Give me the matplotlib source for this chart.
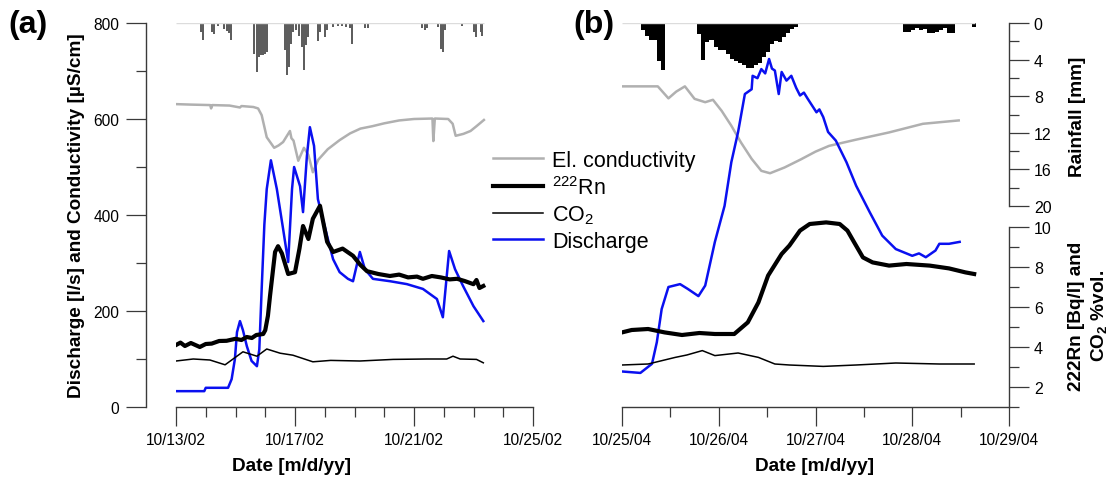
import numpy as np
import pandas as pd
import matplotlib
matplotlib.use('Agg')
import matplotlib.pyplot as plt
import matplotlib.dates as mdates
from matplotlib.ticker import FixedLocator, NullLocator

plt.rcParams['font.family'] = ['Liberation Sans', 'DejaVu Sans']
plt.rcParams['mathtext.fontset'] = 'custom'
plt.rcParams['mathtext.rm'] = 'Liberation Sans'
plt.rcParams['mathtext.bf'] = 'Liberation Sans:bold'

# ---------------- data: panel (a), Oct 2002 (x = days after 10/13/02) ----------------
start_a = '2002-10-13'
cond_a_d = [0, 0.5, 1.15, 1.18, 1.22, 1.8, 2.15, 2.2, 2.6, 2.76, 2.88, 3.05, 3.3, 3.45, 3.6,
            3.83, 3.88, 3.95, 4.11, 4.3, 4.45, 4.6, 4.78, 5.1, 5.5, 5.85, 6.2, 6.6, 7.0, 7.5,
            8.0, 8.62, 8.65, 8.7, 9.15, 9.3, 9.4, 9.66, 9.9, 10.1, 10.35]
cond_a = [631, 630, 629, 622, 629, 628, 624, 627, 625, 622, 608, 562, 540, 545, 552,
          575, 560, 555, 513, 540, 525, 489, 515, 537, 556, 570, 580, 585, 591, 597,
          600, 601, 554, 601, 600, 590, 565, 569, 575, 585, 598]

q_a_d = [0, 0.95, 1.0, 1.75, 1.87, 1.98, 2.05, 2.15, 2.25, 2.38, 2.54, 2.72, 2.8, 2.88, 2.97,
         3.05, 3.19, 3.39, 3.6, 3.77, 3.9, 3.97, 4.17, 4.27, 4.4, 4.5, 4.64, 4.77, 5.08, 5.28,
         5.5, 5.78, 5.95, 6.18, 6.35, 6.62, 7.2, 7.76, 8.3, 8.77, 8.97, 9.18, 9.38, 9.65, 10.0, 10.33]
q_a = [33, 33, 40, 40, 58, 100, 156, 179, 160, 127, 96, 85, 120, 246, 380,
       454, 514, 454, 371, 302, 454, 500, 460, 406, 523, 583, 544, 433, 356, 308,
       281, 267, 262, 323, 287, 267, 262, 256, 246, 225, 187, 325, 287, 252, 210, 179]

rn_a_d = [0, 0.15, 0.3, 0.5, 0.8, 1.0, 1.2, 1.45, 1.7, 2.0, 2.2, 2.38, 2.55, 2.7, 2.93, 3.0,
          3.09, 3.16, 3.33, 3.43, 3.56, 3.77, 4.0, 4.15, 4.27, 4.45, 4.6, 4.84, 5.08, 5.28,
          5.6, 5.95, 6.2, 6.42, 6.8, 7.19, 7.5, 7.8, 8.1, 8.3, 8.6, 8.9, 9.2, 9.45, 9.7, 10.0,
          10.1, 10.2, 10.33]
rn_a = [4.10, 4.22, 4.05, 4.20, 4.00, 4.15, 4.17, 4.30, 4.31, 4.41, 4.35, 4.50, 4.45, 4.60, 4.65, 4.84,
        5.56, 6.55, 8.75, 9.04, 8.68, 7.65, 7.74, 8.92, 10.05, 9.40, 10.41, 11.06, 9.26, 8.75,
        8.92, 8.56, 8.10, 7.79, 7.65, 7.55, 7.62, 7.48, 7.52, 7.41, 7.55, 7.48, 7.38, 7.41, 7.30, 7.14,
        7.35, 6.95, 7.05]

co2_a_d = [0, 0.58, 1.14, 1.65, 2.25, 2.72, 3.05, 3.5, 3.93, 4.6, 5.2, 6.18, 7.3, 8.43, 9.1,
           9.31, 9.55, 10.1, 10.33]
co2_a = [3.30, 3.40, 3.35, 3.11, 3.76, 3.54, 3.90, 3.69, 3.59, 3.26, 3.33, 3.30, 3.38, 3.40, 3.40,
         3.54, 3.40, 3.38, 3.21]

rain_a_d = [0.83, 0.92, 1.2, 1.28, 1.42, 1.61, 1.70, 1.79, 1.86, 2.10, 2.21, 2.62, 2.71, 2.78,
            2.85, 2.91, 2.99, 3.07, 3.66, 3.72, 3.80, 3.87, 3.94, 4.03, 4.14, 4.22, 4.29, 4.37,
            4.45, 4.78, 4.84, 5.01, 5.07, 5.29, 5.46, 5.57, 5.71, 5.85, 5.92, 6.35, 6.44, 8.28,
            8.37, 8.45, 8.82, 8.90, 8.99, 9.04, 9.62, 10.02, 10.07, 10.24, 10.30]
rain_a = [1.0, 1.9, 1.0, 1.2, 0.3, 0.7, 0.9, 1.1, 1.9, 0.15, 0.15, 3.4, 5.4, 3.7,
          3.5, 3.5, 3.4, 3.2, 3.0, 5.7, 4.8, 2.3, 1.0, 0.8, 1.4, 2.6, 5.1, 2.4,
          1.5, 2.0, 1.0, 1.5, 0.8, 0.4, 0.3, 0.3, 0.4, 0.6, 2.3, 0.6, 0.6, 0.6,
          0.8, 0.6, 0.4, 2.8, 3.2, 0.8, 0.3, 1.0, 1.5, 1.0, 1.4]

# ---------------- data: panel (b), Oct 2004 (x = days after 10/25/04) ----------------
start_b = '2004-10-25'
cond_b_d = [0, 0.37, 0.48, 0.56, 0.65, 0.75, 0.86, 0.94, 1.03, 1.13, 1.23, 1.34, 1.44, 1.53,
            1.68, 1.85, 2.0, 2.14, 2.42, 2.76, 3.11, 3.48]
cond_b = [668, 668, 643, 657, 668, 642, 635, 640, 617, 586, 551, 517, 492, 487,
          499, 516, 532, 544, 557, 572, 590, 597]

q_b_d = [0, 0.19, 0.31, 0.36, 0.41, 0.48, 0.60, 0.68, 0.79, 0.86, 0.96, 1.06, 1.13, 1.20, 1.27,
         1.34, 1.35, 1.40, 1.44, 1.48, 1.52, 1.55, 1.58, 1.62, 1.65, 1.70, 1.75, 1.80, 1.84, 1.88,
         1.92, 2.01, 2.04, 2.08, 2.13, 2.21, 2.32, 2.42, 2.56, 2.69, 2.83, 3.00, 3.07, 3.14,
         3.24, 3.28, 3.38, 3.49]
q_b = [74, 71, 90, 135, 204, 250, 256, 246, 231, 253, 344, 419, 510, 573, 652,
       662, 690, 685, 704, 695, 725, 705, 701, 652, 698, 680, 690, 665, 649, 655,
       642, 614, 620, 604, 573, 555, 510, 461, 406, 357, 329, 315, 320, 312,
       326, 340, 340, 344]

rn_b_d = [0, 0.1, 0.27, 0.44, 0.62, 0.8, 0.96, 1.16, 1.30, 1.41, 1.51, 1.65, 1.73, 1.84, 1.94,
          2.11, 2.25, 2.33, 2.40, 2.49, 2.59, 2.76, 2.94, 3.18, 3.38, 3.55, 3.64]
rn_b = [4.73, 4.85, 4.90, 4.73, 4.60, 4.70, 4.65, 4.65, 5.23, 6.23, 7.57, 8.65, 9.07, 9.82, 10.15,
        10.23, 10.15, 9.82, 9.23, 8.48, 8.23, 8.07, 8.15, 8.07, 7.93, 7.73, 7.65]

co2_b_d = [0, 0.27, 0.55, 0.67, 0.83, 0.96, 1.20, 1.41, 1.58, 1.73, 2.08, 2.42, 2.83, 3.28, 3.64]
co2_b = [3.10, 3.15, 3.48, 3.60, 3.82, 3.57, 3.70, 3.48, 3.15, 3.10, 3.03, 3.10, 3.20, 3.15, 3.15]

# hourly rainfall [mm], first hour begins 4.7 h after 10/25/04 00:00
rain_b_h0 = 4.7
rain_b = [0.8, 1.4, 1.9, 1.9, 4.1, 5.1, 0, 0.15, 0, 0, 0, 0, 0, 0.1, 1.2, 4.0, 2.1, 1.9,
          2.6, 2.9, 3.0, 3.4, 3.9, 4.1, 4.4, 4.6, 4.9, 4.9, 4.6, 4.4, 3.7, 3.2, 2.3, 2.0,
          2.1, 1.5, 1.1, 0.7, 0.4, 0, 0, 0, 0, 0.1, 0, 0, 0, 0, 0, 0, 0, 0, 0, 0, 0, 0,
          0, 0, 0, 0, 0, 0, 0, 0, 0, 1.0, 1.0, 0.8, 0.6, 0.8, 0.7, 1.1, 1.1, 1.0, 0.8,
          0.6, 1.1, 1.1, 0, 0, 0, 0, 0.4]


def to_time(start, days):
    return pd.Timestamp(start) + pd.to_timedelta(np.asarray(days, dtype=float), unit='D')


W, H = 1114, 481
fig = plt.figure(figsize=(W / 100, H / 100), dpi=100)

def rect(x0, y0, x1, y1):
    return [x0 / W, 1 - y1 / H, (x1 - x0) / W, (y1 - y0) / H]

AXC = '#3a3a3a'
BLUE = '#0a10f0'
GREY = '#b0b0b0'


def make_panel(r, t0, t1):
    ax = fig.add_axes(r)
    ax.set_xlim(pd.Timestamp(t0), pd.Timestamp(t1))
    ax.set_ylim(0, 800)
    ax_rn = ax.twinx()
    ax_rn.set_ylim(1, 1 + 384 / 20.0)
    ax_rain = ax.twinx()
    ax_rain.set_ylim(384 / 9.15, 0)
    for a in (ax, ax_rn, ax_rain):
        for s in a.spines.values():
            s.set_visible(False)
            s.set_color(AXC)
            s.set_linewidth(1.0)
        a.patch.set_visible(False)
    for a in (ax_rn, ax_rain):
        a.yaxis.set_major_locator(NullLocator())
        a.yaxis.set_minor_locator(NullLocator())
    ax.spines['bottom'].set_visible(True)
    ax.xaxis.set_major_formatter(mdates.DateFormatter('%m/%d/%y'))
    ax.tick_params(axis='x', which='major', direction='out', length=13.7, width=0.9,
                   color=AXC, pad=4.5, labelsize=11.2)
    ax.tick_params(axis='x', which='minor', direction='out', length=7.2, width=0.9, color=AXC)
    return ax, ax_rn, ax_rain


# ---------------- panel (a) ----------------
ax_a, rn_ax_a, rain_ax_a = make_panel(rect(176, 24, 533, 408), '2002-10-13', '2002-10-25')
ax_a.spines['left'].set_visible(True)
ax_a.spines['left'].set_position(('outward', 21.6))
ax_a.yaxis.set_major_locator(FixedLocator([0, 200, 400, 600, 800]))
ax_a.yaxis.set_minor_locator(FixedLocator([100, 300, 500, 700]))
ax_a.tick_params(axis='y', which='major', direction='out', length=14.4, width=0.9,
                 color=AXC, pad=5, labelsize=11.2)
ax_a.tick_params(axis='y', which='minor', direction='out', length=7.2, width=0.9, color=AXC)
ax_a.xaxis.set_major_locator(mdates.DayLocator(bymonthday=[13, 17, 21, 25]))
ax_a.xaxis.set_minor_locator(mdates.DayLocator())

t_cond_a = to_time(start_a, cond_a_d)
rain_ax_a.hlines(0, t_cond_a[0], t_cond_a[-1], color='#dcdcdc', lw=1)
rain_ax_a.bar(to_time(start_a, rain_a_d), rain_a, width=0.065, color='#5e5e5e')
l_cond, = ax_a.plot(t_cond_a, cond_a, color=GREY, lw=1.8)
l_q, = ax_a.plot(to_time(start_a, q_a_d), q_a, color=BLUE, lw=1.8)
l_rn, = rn_ax_a.plot(to_time(start_a, rn_a_d), rn_a, color='black', lw=3.0)
l_co2, = rn_ax_a.plot(to_time(start_a, co2_a_d), co2_a, color='black', lw=1.1)

ax_a.set_ylabel('Discharge [l/s] and Conductivity [\u00b5S/cm]', fontsize=13.7, fontweight='bold')
ax_a.yaxis.set_label_coords((85 - 176) / 357, 0.5)
fig.text(292 / W, 1 - 467 / H, 'Date [m/d/yy]', fontsize=13.7, fontweight='bold',
         ha='center', va='center')
fig.text(28 / W, 1 - 25 / H, '(a)', fontsize=23, fontweight='bold', ha='center', va='center')

# ---------------- panel (b) ----------------
ax_b, rn_ax_b, rain_ax_b = make_panel(rect(622, 24, 1009, 408), '2004-10-25', '2004-10-29')
ax_b.yaxis.set_major_locator(NullLocator())
ax_b.xaxis.set_major_locator(mdates.DayLocator())
ax_b.xaxis.set_minor_locator(mdates.HourLocator(byhour=[12]))

for a, lo, hi, major, minor in ((rn_ax_b, 1, 10, [2, 4, 6, 8, 10], [1, 3, 5, 7, 9]),
                                (rain_ax_b, 0, 20, [0, 4, 8, 12, 16, 20], [2, 6, 10, 14, 18])):
    a.spines['right'].set_visible(True)
    a.spines['right'].set_bounds(lo, hi)
    a.yaxis.set_major_locator(FixedLocator(major))
    a.yaxis.set_minor_locator(FixedLocator(minor))
    a.tick_params(axis='y', which='major', direction='out', length=14.4, width=0.9,
                  color=AXC, pad=3.5, labelsize=11.5, right=True, labelright=True)
    a.tick_params(axis='y', which='minor', direction='out', length=7.2, width=0.9,
                  color=AXC, right=True)

t_cond_b = to_time(start_b, cond_b_d)
rain_ax_b.hlines(0, t_cond_b[0], to_time(start_b, [3.65])[0], color='#dcdcdc', lw=1)
rain_t_b = to_time(start_b, (rain_b_h0 + np.arange(len(rain_b))) / 24.0)
rain_ax_b.bar(rain_t_b, rain_b, width=1 / 24.0, align='edge', color='black')
ax_b.plot(t_cond_b, cond_b, color=GREY, lw=1.8)
ax_b.plot(to_time(start_b, q_b_d), q_b, color=BLUE, lw=1.8)
rn_ax_b.plot(to_time(start_b, rn_b_d), rn_b, color='black', lw=3.0)
rn_ax_b.plot(to_time(start_b, co2_b_d), co2_b, color='black', lw=1.1)

fig.text(815 / W, 1 - 467 / H, 'Date [m/d/yy]', fontsize=13.7, fontweight='bold',
         ha='center', va='center')
fig.text(594 / W, 1 - 25 / H, '(b)', fontsize=23, fontweight='bold', ha='center', va='center')
fig.text(1078 / W, 1 - 117 / H, 'Rainfall [mm]', fontsize=13.7, fontweight='bold',
         rotation=90, ha='center', va='center')
fig.text(1089 / W, 1 - 316 / H, '222Rn [Bq/l] and\nCO$_\\mathbf{2}$ %vol.', fontsize=13.7,
         fontweight='bold', rotation=90, ha='center', va='center', multialignment='center',
         linespacing=1.35)

# ---------------- legend ----------------
fig.legend([l_cond, l_rn, l_co2, l_q],
           ['El. conductivity', '$^{222}$Rn', 'CO$_2$', 'Discharge'],
           loc='upper left', bbox_to_anchor=(493 / W, 1 - 151 / H), frameon=False,
           fontsize=15.5, handlelength=2.3, handletextpad=0.45, labelspacing=0.22,
           borderpad=0, borderaxespad=0)

fig.savefig('out.png', dpi=100)
